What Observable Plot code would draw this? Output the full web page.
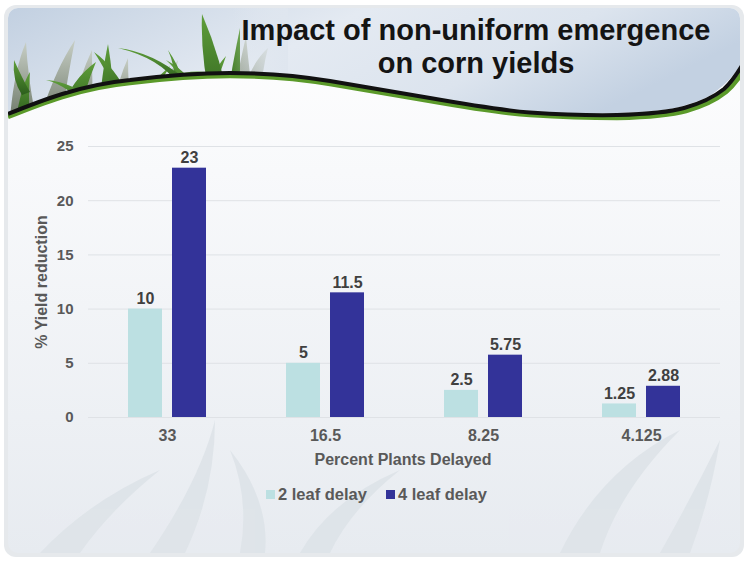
<!DOCTYPE html>
<html>
<head>
<meta charset="utf-8">
<script src="https://cdn.jsdelivr.net/npm/d3@7"></script>
<script src="https://cdn.jsdelivr.net/npm/@observablehq/plot@0.6"></script>
<style>
  html, body { margin: 0; padding: 0; background: #ffffff; }
  #page { position: relative; width: 750px; height: 562px; overflow: hidden; font-family: "Liberation Sans", Arial, sans-serif; }
  #deco { position: absolute; left: 0; top: 0; }
  #title { position: absolute; left: 226px; width: 500px; top: 14px; text-align: center; font-size: 29px; font-weight: bold; line-height: 33px; color: #141414; }
  #chart { position: absolute; left: 0; top: 130px; }
  #ylab { position: absolute; left: 42px; top: 282px; transform: translate(-50%, -50%) rotate(-90deg); white-space: nowrap; font-size: 16px; font-weight: bold; color: #595959; }
  #xlab { position: absolute; left: 403px; top: 460px; transform: translate(-50%, -50%); white-space: nowrap; font-size: 16px; font-weight: bold; color: #595959; }
  #legend { position: absolute; top: 485px; left: 266px; white-space: nowrap; font-size: 16.5px; font-weight: bold; color: #595959; }
  #legend span.item { display: inline-block; margin-right: 19px; }
  #legend span.sw { display: inline-block; width: 9px; height: 9px; margin-right: 3px; vertical-align: 1px; }
</style>
</head>
<body>
<div id="page">
<svg id="deco" width="750" height="562" viewBox="0 0 750 562">
  <defs>
    <clipPath id="card"><rect x="8" y="8" width="732" height="545" rx="10"/></clipPath>
    <linearGradient id="bodyg" x1="0" y1="0" x2="0" y2="1">
      <stop offset="0" stop-color="#ffffff"/>
      <stop offset="0.3" stop-color="#f8f9fb"/>
      <stop offset="1" stop-color="#e7ebf0"/>
    </linearGradient>
    <linearGradient id="skyg" x1="0" y1="0" x2="1" y2="0.3">
      <stop offset="0" stop-color="#c2d0e1"/>
      <stop offset="0.45" stop-color="#e4eaf2"/>
      <stop offset="0.75" stop-color="#dce4ee"/>
      <stop offset="1" stop-color="#c3d1e2"/>
    </linearGradient>
    <linearGradient id="leafg" x1="0" y1="1" x2="0" y2="0">
      <stop offset="0" stop-color="#2c5e1c"/>
      <stop offset="1" stop-color="#5f9e3a"/>
    </linearGradient>
    <linearGradient id="leafg2" x1="0" y1="1" x2="0" y2="0">
      <stop offset="0" stop-color="#6f7a6a"/>
      <stop offset="1" stop-color="#c8cfc6"/>
    </linearGradient>
    <linearGradient id="fadeg" x1="0" y1="0" x2="1" y2="0">
      <stop offset="0" stop-color="#dfe6ef" stop-opacity="0"/>
      <stop offset="1" stop-color="#dfe6ef" stop-opacity="1"/>
    </linearGradient>
    <clipPath id="headclip"><path d="M8,8 H742 V63 C736,72 730,80 720,88 C712,96 700,101 683,106 C670,110 650,112 617,113 C590,114 560,113 530,111 C500,109 470,104 430,97 C400,92 370,87 330,80 C300,75 270,72 230,72 C200,72 170,74 130,79 C80,84 40,100 8,113 Z"/></clipPath>
  </defs>
  <rect x="4" y="5" width="740" height="552" rx="12" fill="#e6e9ec"/>
  <g clip-path="url(#card)">
    <rect x="8" y="8" width="732" height="545" fill="url(#bodyg)"/>
    <g fill="#dde3e8" opacity="0.85">
      <path d="M40,553 Q90,500 160,470 Q110,510 80,553 Z"/>
      <path d="M150,553 Q200,480 215,420 Q215,490 185,553 Z"/>
      <path d="M300,553 Q330,500 400,470 Q350,510 330,553 Z"/>
      <path d="M560,553 Q600,470 680,430 Q620,490 600,553 Z"/>
      <path d="M660,553 Q690,500 720,440 Q710,500 690,553 Z"/>
      <path d="M240,553 Q250,500 230,450 Q270,500 265,553 Z"/>
    </g>
    <g clip-path="url(#headclip)">
      <rect x="8" y="8" width="734" height="110" fill="url(#skyg)"/>
      <g fill="url(#leafg2)">
        <path d="M10,118 Q14,70 26,42 Q28,80 36,118 Z"/>
        <path d="M40,118 Q55,70 75,40 Q66,85 62,118 Z"/>
        <path d="M70,118 Q78,80 92,50 Q92,90 94,118 Z"/>
        <path d="M110,118 Q118,80 128,58 Q128,90 132,118 Z"/>
        <path d="M150,118 Q160,85 178,60 Q170,95 172,118 Z"/>
        <path d="M230,118 Q236,80 246,36 Q250,80 256,118 Z"/>
        <path d="M238,118 Q244,70 268,48 Q258,85 264,118 Z"/>
      </g>
      <g fill="url(#leafg)">
        <path d="M16,118 Q22,84 30,72 Q28,96 30,118 Z"/>
        <path d="M22,95 Q12,80 14,60 Q22,78 30,92 Z"/>
        <path d="M58,118 Q70,80 96,62 Q84,90 80,118 Z"/>
        <path d="M90,112 Q70,86 46,80 Q74,82 98,104 Z"/>
        <path d="M98,118 Q102,72 108,44 Q114,80 114,118 Z"/>
        <path d="M122,104 Q106,70 94,52 Q114,66 130,98 Z"/>
        <path d="M132,118 Q146,86 170,66 Q152,94 150,118 Z"/>
        <path d="M146,92 Q176,68 206,72 Q180,76 156,98 Z"/>
        <path d="M172,118 Q180,76 168,50 Q190,82 188,118 Z"/>
        <path d="M196,108 Q184,76 166,60 Q192,74 206,104 Z"/>
        <path d="M198,118 Q206,78 226,56 Q214,86 214,118 Z"/>
        <path d="M214,118 Q200,60 202,14 Q222,60 232,118 Z"/>
        <path d="M224,118 Q232,66 240,28 Q240,72 240,118 Z"/>
        <path d="M178,84 Q160,58 118,48 Q152,52 184,78 Z"/>
      </g>
      <rect x="232" y="8" width="56" height="110" fill="url(#fadeg)"/>
    </g>
    <path d="M8,117 C40,104 80,88 130,83 C170,78 200,76 230,76 C270,76 300,79 330,84 C370,91 400,96 430,101 C470,108 500,113 530,115 C560,117 590,118 617,118 C650,117 672,115 686,111 C704,106 716,100 726,92 C734,85 739,78 744,70" fill="none" stroke="#5b9a2a" stroke-width="4.5"/>
    <path d="M8,114 C40,101 80,85 130,80 C170,75 200,73 230,73 C270,73 300,76 330,81 C370,88 400,93 430,98 C470,105 500,110 530,112.5 C560,114.5 590,115.5 617,115 C650,114 670,112 684,108 C702,103 714,97 724,89 C732,82 737,74 743,64" fill="none" stroke="#111111" stroke-width="4"/>
  </g>
</svg>
<div id="title">Impact of non-uniform emergence<br>on corn yields</div>
<div id="chart"></div>
<div id="ylab">% Yield reduction</div>
<div id="xlab">Percent Plants Delayed</div>
<div id="legend"></div>
</div>
<script>
const categories = ["33", "16.5", "8.25", "4.125"];
const series = ["2 leaf delay", "4 leaf delay"];
const twoLeafDelay = [10, 5, 2.5, 1.25];
const fourLeafDelay = [23, 11.5, 5.75, 2.88];
const yTicks = [0, 5, 10, 15, 20, 25];
const colors = ["#bce0e2", "#333399"];

const data = categories.flatMap((c, i) => [
  {cat: c, s: series[0], v: twoLeafDelay[i]},
  {cat: c, s: series[1], v: fourLeafDelay[i]}
]);

const chart = Plot.plot({
  width: 750,
  height: 345,
  marginLeft: 87,
  marginRight: 30,
  marginTop: 16,
  marginBottom: 58,
  style: {background: "transparent", fontFamily: "'Liberation Sans', Arial, sans-serif", fontSize: "15px", overflow: "visible"},
  fx: {domain: categories, padding: 0},
  x: {domain: series, paddingInner: 0.222, paddingOuter: 0.867, axis: null},
  y: {domain: [0, 25]},
  color: {domain: series, range: colors},
  marks: [
    Plot.gridY(yTicks, {stroke: "#dfe2e6", strokeOpacity: 1, strokeWidth: 1}),
    Plot.barY(data, {fx: "cat", x: "s", y: "v", fill: "s"}),
    Plot.text(data, {fx: "cat", x: "s", y: "v", text: d => String(d.v), lineAnchor: "bottom", dy: -5, fontSize: 16, fontWeight: "bold", fill: "#404040"}),
    Plot.axisY(yTicks, {tickSize: 0, tickPadding: 15, fontSize: 15, fontWeight: "bold", fill: "#595959", label: null}),
    Plot.axisFx({anchor: "bottom", tickSize: 0, tickPadding: 12, fontSize: 16, fontWeight: "bold", fill: "#595959", label: null})
  ]
});
document.getElementById("chart").appendChild(chart);

const legend = document.getElementById("legend");
series.forEach((s, i) => {
  const item = document.createElement("span");
  item.className = "item";
  const sw = document.createElement("span");
  sw.className = "sw";
  sw.style.background = colors[i];
  item.appendChild(sw);
  item.appendChild(document.createTextNode(s));
  legend.appendChild(item);
});
</script>
</body>
</html>
